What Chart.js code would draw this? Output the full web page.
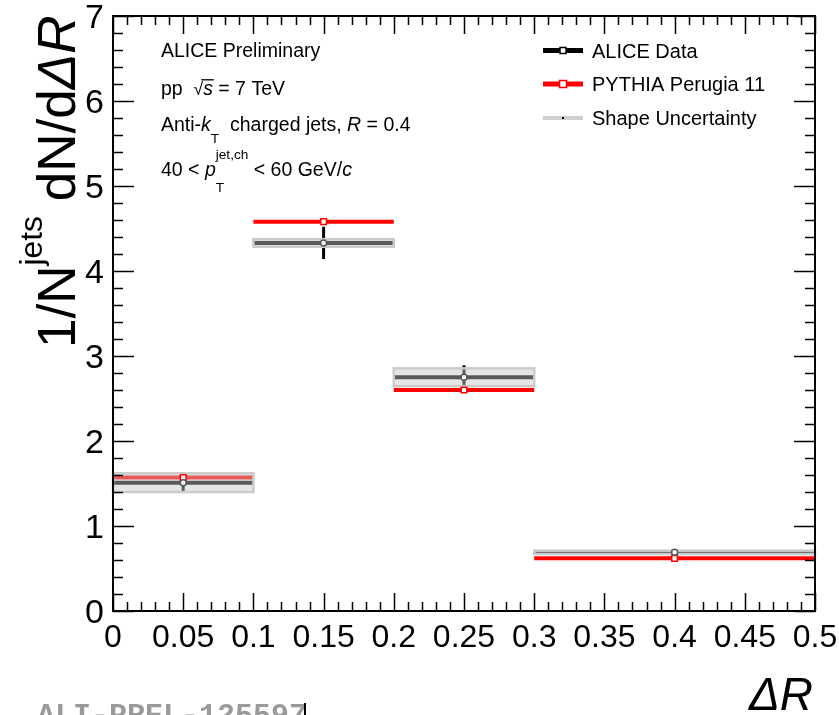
<!DOCTYPE html>
<html>
<head>
<meta charset="utf-8">
<script src="https://cdn.jsdelivr.net/npm/chart.js@4"></script>
<style>
  html, body { margin: 0; padding: 0; background: #fff; }
  #wrap { width: 839px; height: 715px; }
</style>
</head>
<body>
<div id="wrap"><canvas id="chart" width="839" height="715"></canvas></div>
<script>
/* Delta R distribution, ALICE vs PYTHIA */

// --- data ---
const binLow = [0, 0.1, 0.2, 0.3];
const binHigh = [0.1, 0.2, 0.3, 0.5];
const binCenter = [0.05, 0.15, 0.25, 0.4];
const aliceValues = [1.51, 4.33, 2.75, 0.69];
const aliceStatErr = [0.12, 0.19, 0.14, 0.03];
const shapeUncert = [0.11, 0.045, 0.105, 0.02];
const pythiaValues = [1.57, 4.58, 2.6, 0.62];
const xTickValues = [0, 0.05, 0.1, 0.15, 0.2, 0.25, 0.3, 0.35, 0.4, 0.45, 0.5];
const yTickValues = [0, 1, 2, 3, 4, 5, 6, 7];

const FONT = '"Liberation Sans", Arial, Helvetica, sans-serif';

// horizontal segment per bin, broken by null points
function segments(vals) {
  const out = [];
  vals.forEach((v, i) => {
    out.push({ x: binLow[i], y: v }, { x: binHigh[i], y: v }, { x: binHigh[i], y: null });
  });
  return out;
}
function centers(vals) {
  return vals.map((v, i) => ({ x: binCenter[i], y: v }));
}

// small rich text helper (italic, sub/sup, overline)
function drawRich(ctx, x, y, parts, size) {
  let cx = x;
  parts.forEach((p) => {
    if (p.sup !== undefined || p.sub !== undefined) {
      const s = size * (p.sc || 0.7);
      ctx.font = s + "px " + FONT;
      let w = 0;
      if (p.sup) {
        ctx.fillText(p.sup, cx, y + size * p.supDy);
        w = Math.max(w, ctx.measureText(p.sup).width);
      }
      if (p.sub) {
        ctx.fillText(p.sub, cx, y + size * p.subDy);
        w = Math.max(w, ctx.measureText(p.sub).width);
      }
      cx += w;
      return;
    }
    const s = size * (p.sc || 1);
    ctx.font = (p.it ? "italic " : "") + s + "px " + FONT;
    ctx.fillText(p.t, cx, y + size * (p.dy || 0));
    const w = ctx.measureText(p.t).width;
    if (p.over) {
      ctx.save();
      ctx.lineWidth = 1.3;
      ctx.beginPath();
      ctx.moveTo(cx - 2, y - size * 0.78);
      ctx.lineTo(cx + w + 1, y - size * 0.78);
      ctx.stroke();
      ctx.restore();
    }
    cx += w;
  });
  return cx;
}

// boxes + error bars, drawn right after the ALICE line dataset
const uncertPlugin = {
  id: "uncert",
  afterDatasetDraw(chart, args) {
    if (args.index !== 2) return;
    const { ctx, scales: { x: xs, y: ys } } = chart;
    ctx.save();
    // stat errors
    ctx.strokeStyle = "#000";
    ctx.lineWidth = 3;
    aliceValues.forEach((v, i) => {
      const px = xs.getPixelForValue(binCenter[i]);
      ctx.beginPath();
      ctx.moveTo(px, ys.getPixelForValue(v - aliceStatErr[i]));
      ctx.lineTo(px, ys.getPixelForValue(v + aliceStatErr[i]));
      ctx.stroke();
    });
    // shape uncertainty boxes
    aliceValues.forEach((v, i) => {
      const x0 = xs.getPixelForValue(binLow[i]);
      const x1 = xs.getPixelForValue(binHigh[i]);
      const y0 = ys.getPixelForValue(v + shapeUncert[i]);
      const y1 = ys.getPixelForValue(v - shapeUncert[i]);
      ctx.fillStyle = "rgba(200,200,200,0.45)";
      ctx.fillRect(x0, y0, x1 - x0, y1 - y0);
      ctx.strokeStyle = "#cbcbcb";
      ctx.lineWidth = 2.5;
      ctx.strokeRect(x0, y0, x1 - x0, y1 - y0);
    });
    ctx.restore();
  },
};

// frame, inner ticks, texts, legend
const decorPlugin = {
  id: "decor",
  afterDraw(chart) {
    const { ctx, chartArea: a, scales: { x: xs, y: ys } } = chart;
    ctx.save();
    ctx.strokeStyle = "#000";
    ctx.fillStyle = "#000";

    // ticks
    ctx.lineWidth = 1.5;
    ctx.beginPath();
    for (let k = 0; k <= 50; k++) {
      const px = Math.round(xs.getPixelForValue(k / 100)) + 0.5;
      const len = k % 5 === 0 ? 18 : 9;
      ctx.moveTo(px, a.bottom); ctx.lineTo(px, a.bottom - len);
      ctx.moveTo(px, a.top); ctx.lineTo(px, a.top + len);
    }
    for (let k = 0; k <= 35; k++) {
      const py = Math.round(ys.getPixelForValue(k / 5)) + 0.5;
      const len = k % 5 === 0 ? 21 : 10;
      ctx.moveTo(a.left, py); ctx.lineTo(a.left + len, py);
      ctx.moveTo(a.right, py); ctx.lineTo(a.right - len, py);
    }
    ctx.stroke();
    ctx.lineWidth = 2;
    ctx.strokeRect(a.left, a.top, a.right - a.left, a.bottom - a.top);

    // info text
    ctx.textBaseline = "alphabetic";
    ctx.textAlign = "left";
    const fs = 19.5;
    drawRich(ctx, 161, 57, [{ t: "ALICE Preliminary" }], fs);
    drawRich(ctx, 161, 95, [
      { t: "pp  " }, { t: "\u221A", sc: 0.9 }, { t: "s", it: true, over: true }, { t: " = 7 TeV" },
    ], fs);
    drawRich(ctx, 161, 131, [
      { t: "Anti-" }, { t: "k", it: true },
      { sub: "T", subDy: 0.6, sc: 0.7 },
      { t: "  charged jets, " }, { t: "R", it: true }, { t: " = 0.4" },
    ], fs);
    drawRich(ctx, 161, 176, [
      { t: "40 < " }, { t: "p", it: true },
      { sup: "jet,ch", supDy: -0.88, sub: "T", subDy: 0.8, sc: 0.7 },
      { t: " < 60 GeV/" }, { t: "c", it: true },
    ], fs);

    // legend
    const lx0 = 543, lx1 = 583, lxt = 592;
    const rows = [50.5, 84, 118];
    // ALICE Data
    ctx.lineWidth = 5;
    ctx.strokeStyle = "#000";
    ctx.beginPath(); ctx.moveTo(lx0, rows[0]); ctx.lineTo(lx1, rows[0]); ctx.stroke();
    ctx.lineWidth = 1.5;
    ctx.fillStyle = "#fff";
    ctx.fillRect(560, rows[0] - 3, 6, 6);
    ctx.strokeRect(560, rows[0] - 3, 6, 6);
    // PYTHIA
    ctx.lineWidth = 5;
    ctx.strokeStyle = "#ff0000";
    ctx.beginPath(); ctx.moveTo(lx0, rows[1]); ctx.lineTo(lx1, rows[1]); ctx.stroke();
    ctx.lineWidth = 1.5;
    ctx.fillRect(559.5, rows[1] - 3.5, 7, 7);
    ctx.strokeRect(559.5, rows[1] - 3.5, 7, 7);
    // Shape uncertainty
    ctx.lineWidth = 4;
    ctx.strokeStyle = "#cfcfcf";
    ctx.beginPath(); ctx.moveTo(lx0, rows[2]); ctx.lineTo(lx1, rows[2]); ctx.stroke();
    ctx.fillStyle = "#000";
    ctx.fillRect(562, rows[2] - 1, 2, 2);

    ctx.font = "20px " + FONT;
    ctx.fillText("ALICE Data", lxt, rows[0] + 7);
    ctx.fillText("PYTHIA Perugia 11", lxt, rows[1] + 7);
    ctx.fillText("Shape Uncertainty", lxt, rows[2] + 7);

    // y title (rotated)
    ctx.save();
    ctx.translate(75, 348);
    ctx.rotate(-Math.PI / 2);
    drawRich(ctx, 0, 0, [
      { t: "1/N" },
      { sup: "jets", supDy: -0.62, sc: 0.6 },
      { t: " dN/d" }, { t: "\u0394", it: true }, { t: "R", it: true },
    ], 53);
    ctx.restore();

    // x title
    ctx.font = "italic 46px " + FONT;
    ctx.textAlign = "right";
    ctx.fillText("\u0394R", 813, 710);

    // watermark
    ctx.textAlign = "left";
    ctx.fillStyle = "#9a9a9a";
    ctx.font = "bold 30px 'Liberation Mono', 'Courier New', monospace";
    ctx.fillText("ALI-PREL-125597", 37, 724);
    ctx.fillStyle = "#000";
    ctx.fillRect(304, 703, 2, 12);

    ctx.restore();
  },
};

const chart = new Chart(document.getElementById("chart"), {
  type: "scatter",
  data: {
    datasets: [
      {
        label: "ALICE Data",
        data: centers(aliceValues),
        pointStyle: "circle",
        pointRadius: 3,
        pointBackgroundColor: "#fff",
        pointBorderColor: "#555",
        pointBorderWidth: 1.5,
        showLine: false,
      },
      {
        label: "PYTHIA Perugia 11",
        data: centers(pythiaValues),
        pointStyle: "rect",
        pointRadius: 4,
        pointBackgroundColor: "#fff",
        pointBorderColor: "#ff0000",
        pointBorderWidth: 1.5,
        showLine: false,
      },
      {
        label: "ALICE line",
        data: segments(aliceValues),
        showLine: true,
        spanGaps: false,
        borderColor: "#000",
        borderWidth: 4,
        pointRadius: 0,
      },
      {
        label: "PYTHIA line",
        data: segments(pythiaValues),
        showLine: true,
        spanGaps: false,
        borderColor: "#ff0000",
        borderWidth: 4,
        pointRadius: 0,
      },
    ],
  },
  options: {
    responsive: false,
    animation: false,
    devicePixelRatio: 1,
    layout: { padding: { left: 0, right: 24, top: 16, bottom: 0 } },
    plugins: { legend: { display: false }, tooltip: { enabled: false } },
    scales: {
      x: {
        type: "linear",
        min: 0,
        max: 0.5,
        grid: { display: false, drawTicks: false },
        border: { display: false },
        afterBuildTicks: (s) => { s.ticks = xTickValues.map((v) => ({ value: v })); },
        afterFit: (s) => {
          s.height = 104;
          s.paddingLeft = 0; s.paddingRight = 0;
        },
        ticks: {
          autoSkip: false,
          maxRotation: 0,
          padding: 8,
          color: "#000",
          font: { size: 32, family: FONT },
          callback: (v) => String(+v.toFixed(2)),
        },
      },
      y: {
        type: "linear",
        min: 0,
        max: 7,
        grid: { display: false, drawTicks: false },
        border: { display: false },
        afterBuildTicks: (s) => { s.ticks = yTickValues.map((v) => ({ value: v })); },
        afterFit: (s) => {
          s.width = 113;
          s.paddingTop = 0; s.paddingBottom = 0;
        },
        ticks: {
          padding: 9,
          labelOffset: 3,
          color: "#000",
          font: { size: 34, family: FONT },
          callback: (v) => String(v),
        },
      },
    },
  },
  plugins: [uncertPlugin, decorPlugin],
});
</script>
</body>
</html>
